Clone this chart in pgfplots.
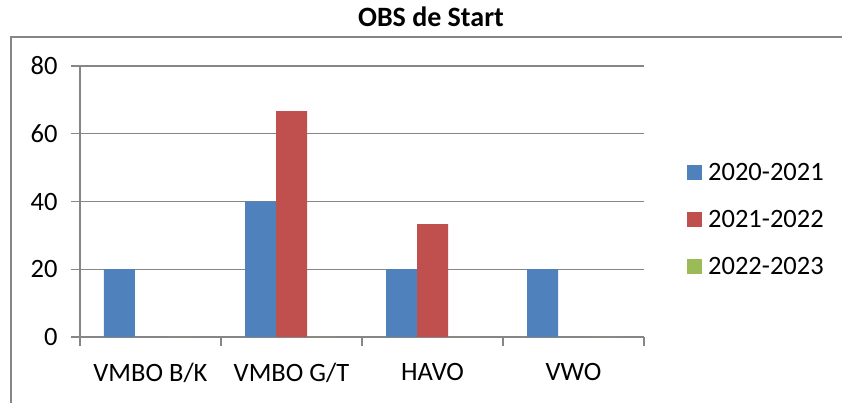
\documentclass[border=0pt]{standalone}
\usepackage{fontspec}
\setmainfont{Carlito}
\usepackage{pgfplots}
\pgfplotsset{compat=1.18}

\definecolor{serA}{HTML}{4F81BD}
\definecolor{serB}{HTML}{C0504D}
\definecolor{serC}{HTML}{9BBB59}
\definecolor{linegray}{HTML}{868686}

\newcommand{\lblfont}{\fontsize{26.5}{31}\selectfont}

\begin{document}
\begin{tikzpicture}
% page = 842 x 403, plot area origin at (80,337) from the top left
\path[use as bounding box] (-80pt,-66pt) rectangle (762pt,337pt);
\draw[linegray, line width=1.6pt] (-69pt,-70pt) -- (-69pt,300pt) -- (770pt,300pt);
\begin{axis}[
    at={(0pt,0pt)}, anchor=south west,
    scale only axis,
    width=564pt, height=271pt,
    ybar=0pt, bar width=31pt,
    xmin=-0.5, xmax=3.5,
    ymin=0, ymax=80,
    xtick={-0.5,0.5,1.5,2.5,3.5},
    x tick label as interval,
    xticklabels={VMBO B/K, VMBO G/T, HAVO, VWO},
    ytick={0,20,40,60,80},
    axis x line*=bottom, axis y line*=left,
    axis line style={-, draw=linegray, line width=1.1pt},
    tick align=outside, major tick length=9pt,
    tick style={draw=linegray, line width=1.1pt},
    ymajorgrids,
    grid style={draw=linegray, line width=1.1pt},
    tick label style={font=\lblfont},
    /pgf/number format/assume math mode=true,
    yticklabel style={xshift=-10pt},
    xticklabel style={yshift=-14pt},
    title={OBS de Start},
    title style={at={(axis description cs:0.6223,1.1218)}, anchor=base,
        font=\bfseries\fontsize{28}{34}\selectfont},
    legend style={at={(axis description cs:1.0762,0.636)}, anchor=north west,
        draw=none, fill=none, inner sep=0pt, font=\lblfont,
        nodes={inner sep=0pt, text height=16pt, text depth=0pt},
        row sep=31pt,
        /tikz/every odd column/.append style={column sep=6pt}},
    legend cell align=left,
    legend image code/.code={\path[#1, draw=none] (0pt,-7pt) rectangle (15pt,7.5pt);},
]
\addplot[fill=serA, draw=none] coordinates {(0,20) (1,40) (2,20) (3,20)};
\addplot[fill=serB, draw=none] coordinates {(1,66.7) (2,33.3)};
\addplot[fill=serC, draw=none] coordinates {(0,0) (1,0) (2,0) (3,0)};
\legend{2020-2021, 2021-2022, 2022-2023}
\end{axis}
\end{tikzpicture}
\end{document}
